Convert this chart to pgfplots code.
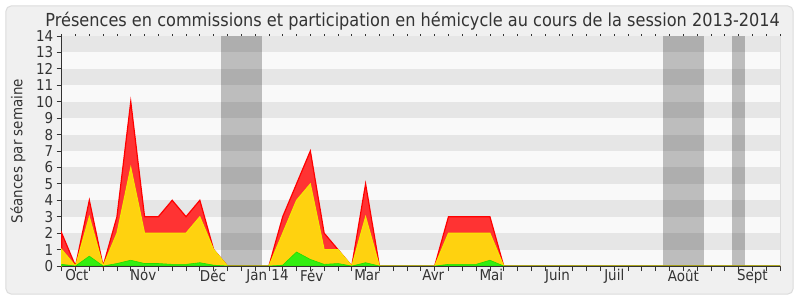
\documentclass[border=0pt]{standalone}
\usepackage{fontspec}
\setmainfont{DejaVu Sans}[FakeStretch=0.9]
\usepackage{pgfplots}
\pgfplotsset{compat=1.18}
\definecolor{bgout}{HTML}{F0F0F0}
\definecolor{framec}{HTML}{DCDCDC}
\definecolor{plotbg}{HTML}{F9F9F9}
\definecolor{bandc}{HTML}{E6E6E6}
\definecolor{textc}{HTML}{333333}
\definecolor{axisc}{HTML}{333333}
\definecolor{redfill}{HTML}{FF3333}
\definecolor{redline}{HTML}{FF0000}
\definecolor{yelfill}{HTML}{FFD20F}
\definecolor{yelline}{HTML}{F5E800}
\definecolor{grnfill}{HTML}{33EE11}
\definecolor{grnline}{HTML}{22DD00}
\begin{document}
\begin{tikzpicture}[x=1bp,y=1bp]
\useasboundingbox (-61.7,-34) rectangle (738.3,266);
\fill[white] (-61.7,-34) rectangle (738.3,266);
\draw[framec, fill=bgout, rounded corners=5bp, line width=1bp] (-55.7,-28) rectangle (731.3,260);
\node[anchor=base, text=textc, font=\fontsize{18}{21}\selectfont, inner sep=0pt] at (351.0,239.5) {Présences en commissions et participation en hémicycle au cours de la session 2013-2014};
\begin{axis}[
  at={(0,0)}, anchor=south west,
  scale only axis, width=718.3bp, height=230bp,
  xmin=0, xmax=52, ymin=0, ymax=14,
  clip=false,
  axis background/.style={fill=plotbg},
  axis x line*=bottom, axis y line*=left,
  axis line style={axisc, line width=0.8bp},
  xtick={0,...,52}, xticklabels={},
  ytick={0,...,14},
  tick align=outside,
  major tick length=5bp,
  tick style={axisc, line width=0.8bp},
  extra x ticks={1.1,5.9,10.95,14.9,18.1,22.1,26.9,31.1,35.9,40.0,45.0,50.0},
  extra x tick labels={Oct,Nov,Déc,Jan 14,Fév,Mar,Avr,Mai,Juin,Juil,Août,Sept},
  extra x tick style={major tick length=0pt, tick style={draw=none}},
  ticklabel style={text=textc, font=\fontsize{15}{18}\selectfont},
  /pgf/number format/assume math mode=true,
  ylabel={Séances par semaine},
  ylabel style={at={(axis description cs:-0.0608,0.5)}, anchor=center, text=textc, font=\fontsize{15}{18}\selectfont},
]
\fill[bandc] (axis cs:0,1) rectangle (axis cs:52,2);
\fill[bandc] (axis cs:0,3) rectangle (axis cs:52,4);
\fill[bandc] (axis cs:0,5) rectangle (axis cs:52,6);
\fill[bandc] (axis cs:0,7) rectangle (axis cs:52,8);
\fill[bandc] (axis cs:0,9) rectangle (axis cs:52,10);
\fill[bandc] (axis cs:0,11) rectangle (axis cs:52,12);
\fill[bandc] (axis cs:0,13) rectangle (axis cs:52,14);
\fill[black, opacity=0.24] (axis cs:11.5,0) rectangle (axis cs:14.5,14);
\fill[black, opacity=0.24] (axis cs:43.5,0) rectangle (axis cs:46.5,14);
\fill[black, opacity=0.24] (axis cs:48.5,0) rectangle (axis cs:49.5,14);
\draw[framec, line width=1bp] (axis cs:52,0) -- (axis cs:52,14);
\pgfplotsinvokeforeach{0,...,52}{\draw[axisc, line width=0.8bp] (axis cs:#1,14) -- ++(0,1.5bp);}
\addplot[draw=redline, fill=redfill, line width=1.2bp] coordinates {
(0,2)(1,0)(2,4)(3,0)(4,3)(5,10)(6,3)(7,3)(8,4)(9,3)(10,4)(11,1)(12,0)(13,0)(14,0)(15,0)(16,3)(17,5)(18,7)(19,2)(20,1)(21,0)(22,5)(23,0)(24,0)(25,0)(26,0)(27,0)(28,3)(29,3)(30,3)(31,3)(32,0)(33,0)(34,0)(35,0)(36,0)(37,0)(38,0)(39,0)(40,0)(41,0)(42,0)(43,0)(44,0)(45,0)(46,0)(47,0)(48,0)(49,0)(50,0)(51,0)(52,0)
} \closedcycle;
\addplot[draw=yelline, fill=yelfill, line width=1bp] coordinates {
(0,1)(1,0)(2,3)(3,0)(4,2)(5,6)(6,2)(7,2)(8,2)(9,2)(10,3)(11,1)(12,0)(13,0)(14,0)(15,0)(16,2)(17,4)(18,5)(19,1)(20,1)(21,0)(22,3)(23,0)(24,0)(25,0)(26,0)(27,0)(28,2)(29,2)(30,2)(31,2)(32,0)(33,0)(34,0)(35,0)(36,0)(37,0)(38,0)(39,0)(40,0)(41,0)(42,0)(43,0)(44,0)(45,0)(46,0)(47,0)(48,0)(49,0)(50,0)(51,0)(52,0)
} \closedcycle;
\addplot[draw=grnline, fill=grnfill, line width=0.6bp] coordinates {
(0,0.1)(1,0)(2,0.6)(3,0)(4,0.15)(5,0.35)(6,0.15)(7,0.15)(8,0.1)(9,0.1)(10,0.2)(11,0.05)(12,0)(13,0)(14,0)(15,0)(16,0.05)(17,0.85)(18,0.4)(19,0.1)(20,0.15)(21,0)(22,0.2)(23,0)(24,0)(25,0)(26,0)(27,0)(28,0.1)(29,0.1)(30,0.1)(31,0.35)(32,0)(33,0)(34,0)(35,0)(36,0)(37,0)(38,0)(39,0)(40,0)(41,0)(42,0)(43,0)(44,0)(45,0)(46,0)(47,0)(48,0)(49,0)(50,0)(51,0)(52,0)
} \closedcycle;
\draw[axisc, line width=0.8bp] (axis cs:0,0) -- (axis cs:52,0);
\end{axis}
\end{tikzpicture}
\end{document}
